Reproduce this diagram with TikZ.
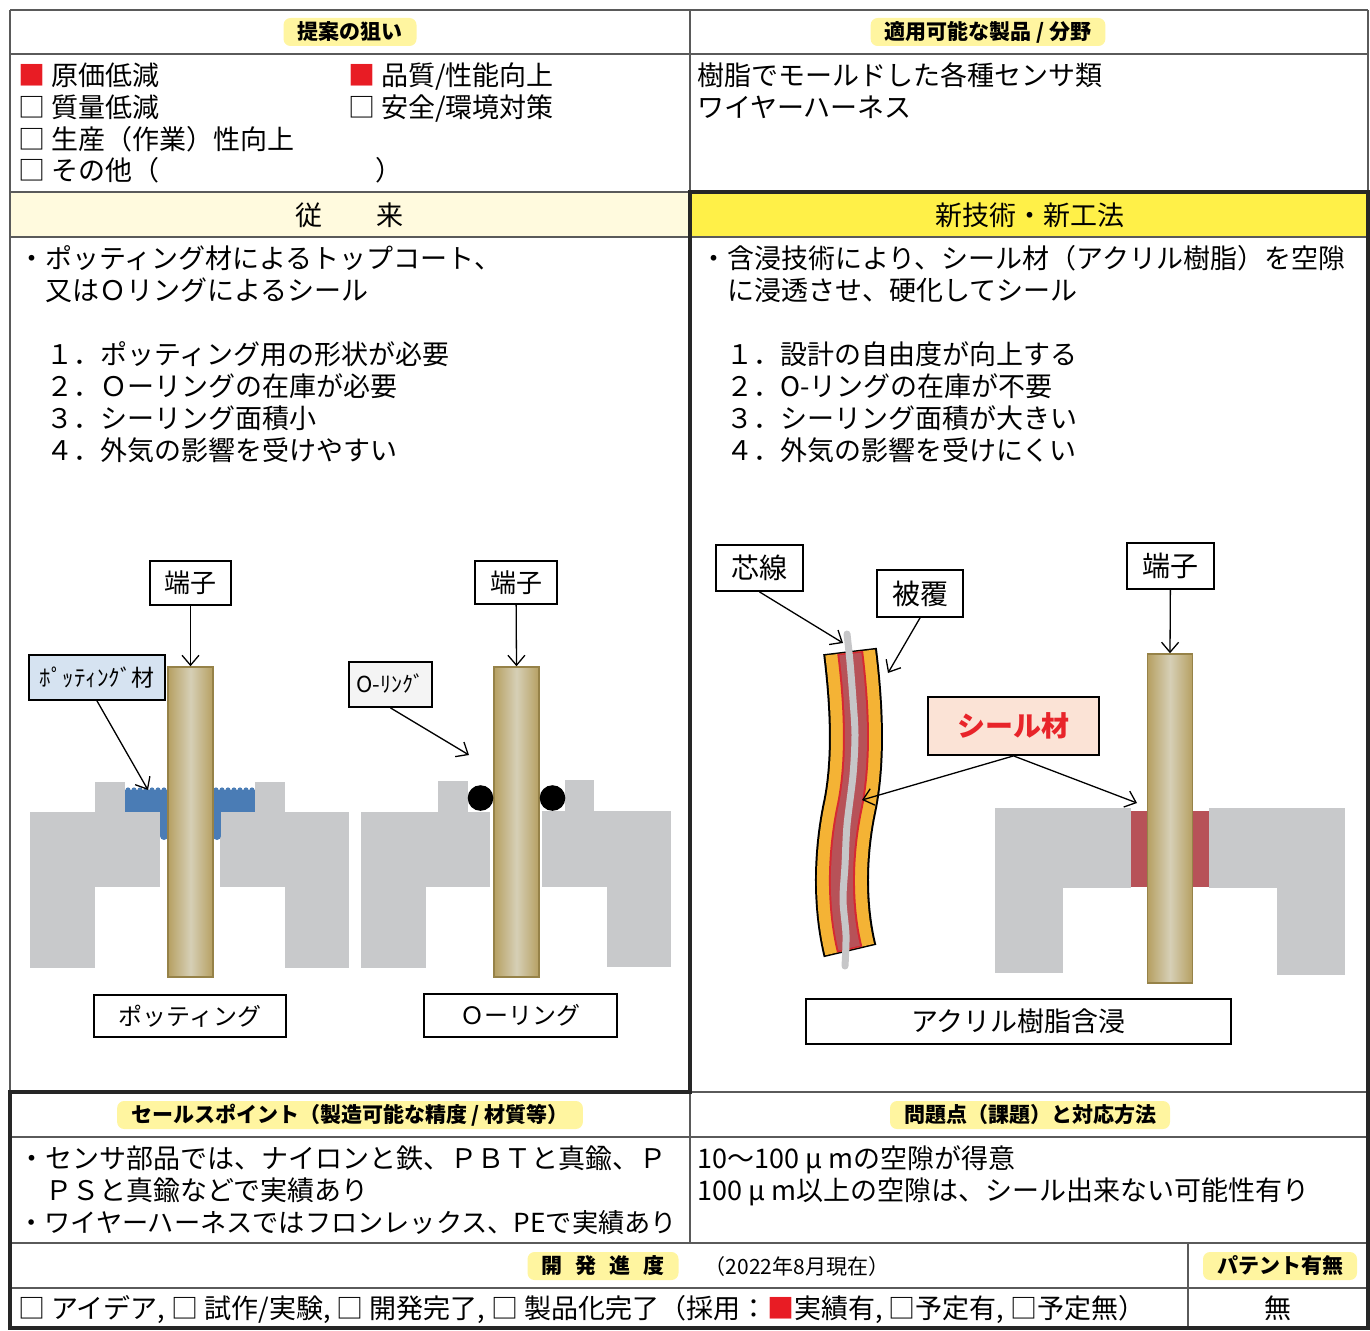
\documentclass[tikz,border=0pt]{standalone}
\usepackage{fontspec}
\setmainfont{Noto Sans CJK JP}
\usetikzlibrary{arrows.meta}

\definecolor{pillyellow}{RGB}{255,245,160}
\definecolor{headpale}{RGB}{255,250,222}
\definecolor{headyellow}{RGB}{255,240,72}
\definecolor{blockgray}{RGB}{200,201,203}
\definecolor{pinedge}{RGB}{182,160,98}
\definecolor{pinmid}{RGB}{214,207,182}
\definecolor{pinline}{RGB}{150,130,72}
\definecolor{pottingblue}{RGB}{74,124,181}
\definecolor{labelblue}{RGB}{214,227,241}
\definecolor{labelgray}{RGB}{244,244,244}
\definecolor{sealred}{RGB}{183,82,88}
\definecolor{sealbox}{RGB}{251,227,214}
\definecolor{sealtext}{RGB}{232,36,42}
\definecolor{wireorange}{RGB}{244,179,53}
\definecolor{wirered}{RGB}{214,40,50}
\definecolor{coregray}{RGB}{198,198,200}
\definecolor{checkred}{RGB}{232,28,36}
\definecolor{rulegray}{RGB}{90,90,90}

\newcommand\fsz[1]{\fontsize{#1}{#1}\selectfont}
\newcommand\redbox{{\color{checkred}■}}

\begin{document}
\begin{tikzpicture}[x=1pt, y=-1pt,
  thinrule/.style={draw=rulegray, line width=1.5pt},
  thickrule/.style={draw=black!85, line width=4pt, line cap=rect},
  cjkstrut/.style={execute at begin node={\rule[-0.12em]{0pt}{1em}}},
  pill/.style={fill=pillyellow, rounded corners=7pt, font=\bfseries\fsz{21},
    minimum height=28pt, inner xsep=14pt, inner ysep=0pt, cjkstrut},
  body/.style={anchor=base west, font=\fsz{27}, inner sep=0pt},
  tag/.style={draw=black, line width=1.8pt, fill=white, inner sep=0pt, cjkstrut},
  pin/.style={draw=pinline, line width=1.5pt, left color=pinedge, right color=pinedge,
    middle color=pinmid, minimum width=45pt, inner sep=0pt},
  block/.style={fill=blockgray},
  arr/.style={line width=1.3pt, -{Straight Barb[length=10pt,width=17pt]}},
]
  \useasboundingbox (0,0) rectangle (1370,1330);

  % Header fills
  \fill[headpale] (10,192) rectangle (690,237);
  \fill[headyellow] (690,192) rectangle (1368,237);

  % Table rules
  \draw[thinrule] (10,10) -- (1368,10);
  \foreach \y in {54,237,1137,1243,1288}
    \draw[thinrule] (10,\y) -- (1368,\y);
  \draw[thinrule] (10,192) -- (690,192);
  \draw[thinrule] (690,1092) -- (1368,1092);
  \draw[thinrule] (10,10) -- (10,1092);
  \draw[thinrule] (690,10) -- (690,192);
  \draw[thinrule] (690,1092) -- (690,1243);
  \draw[thinrule] (1188,1243) -- (1188,1328);
  \draw[thinrule] (1368,10) -- (1368,192);
  \draw[thickrule] (690,192) -- (1368,192);
  \draw[thickrule] (690,192) -- (690,1092) -- (10,1092) -- (10,1328) -- (1368,1328) -- (1368,192);

  % Section titles
  \node[pill] (aimTitle) at (350,32) {提案の狙い};
  \node[pill] (useTitle) at (988,32) {適用可能な製品 / 分野};
  \node[anchor=base, font=\fsz{27}] (oldTitle) at (349,225) {従　　来};
  \node[anchor=base, font=\fsz{27}] (newTitle) at (1030,225) {新技術・新工法};
  \node[pill] (pointTitle) at (350,1115) {セールスポイント（製造可能な精度 / 材質等）};
  \node[pill] (issueTitle) at (1030,1115) {問題点（課題）と対応方法};
  \node[pill] (stageTitle) at (603,1266) {開\hspace{13pt}発\hspace{13pt}進\hspace{13pt}度};
  \node[pill] (patentTitle) at (1280,1266) {パテント有無};
  \node[anchor=base, font=\fsz{21}] (stageDate) at (797,1274) {（2022年8月現在）};

  % Aims and uses
  \node[body] (aim1) at (18,85) {\redbox\ 原価低減};
  \node[body] (aim2) at (18,117) {□ 質量低減};
  \node[body] (aim3) at (18,149) {□ 生産（作業）性向上};
  \node[body] (aim4) at (18,180) {□ その他（　　　　　　　　）};
  \node[body] (aim5) at (348,85) {\redbox\ 品質/性能向上};
  \node[body] (aim6) at (348,117) {□ 安全/環境対策};
  \node[body] (use1) at (697,85) {樹脂でモールドした各種センサ類};
  \node[body] (use2) at (697,117) {ワイヤーハーネス};

  % Conventional method text
  \node[body] (old1) at (18,268) {・ポッティング材によるトップコート、};
  \node[body] (old2) at (18,300) {　又はＯリングによるシール};
  \foreach \n/\t [count=\i] in {１/ポッティング用の形状が必要, ２/Ｏーリングの在庫が必要,
                                ３/シーリング面積小, ４/外気の影響を受けやすい}
    \node[body] (oldItem\i) at (46,332+32*\i) {\n．\t};

  % New method text
  \node[body] (new1) at (700,268) {・含浸技術により、シール材（アクリル樹脂）を空隙};
  \node[body] (new2) at (700,300) {　に浸透させ、硬化してシール};
  \foreach \n/\t [count=\i] in {１/設計の自由度が向上する, ２/O-リングの在庫が不要,
                                ３/シーリング面積が大きい, ４/外気の影響を受けにくい}
    \node[body] (newItem\i) at (726,332+32*\i) {\n．\t};

  % Sales points, issues, progress
  \node[body] (point1) at (18,1168) {・センサ部品では、ナイロンと鉄、ＰＢＴと真鍮、Ｐ};
  \node[body] (point2) at (18,1200) {　ＰＳと真鍮などで実績あり};
  \node[body, font=\fsz{26.2}] (point3) at (18,1232) {・ワイヤーハーネスではフロンレックス、PEで実績あり};
  \node[body] (issue1) at (697,1168) {10～100 μ mの空隙が得意};
  \node[body] (issue2) at (697,1200) {100 μ m以上の空隙は、シール出来ない可能性有り};
  \node[body] (stage) at (18,1318) {□ アイデア, □ 試作/実験, □ 開発完了, □ 製品化完了（採用：\redbox 実績有, □予定有, □予定無）};
  \node[anchor=base, font=\fsz{27}] (patent) at (1278,1318) {無};

  % Potting: housing blocks
  \fill[block] (30,812) rectangle (160,887);
  \fill[block] (95,782) rectangle (125,812);
  \fill[block] (30,887) rectangle (95,968);
  \fill[block] (220,812) rectangle (349,887);
  \fill[block] (255,782) rectangle (285,812);
  \fill[block] (285,887) rectangle (349,968);
  % Potting compound
  \fill[pottingblue] (125,790) rectangle (168,812);
  \fill[pottingblue] (160,812) rectangle (168,836);
  \fill[pottingblue] (164,836) circle (4pt);
  \fill[pottingblue] (213,790) rectangle (255,812);
  \fill[pottingblue] (213,812) rectangle (221,836);
  \fill[pottingblue] (217,836) circle (4pt);
  \foreach \x in {128,134,...,164}
    \fill[pottingblue] (\x,790) circle (2.6pt);
  \foreach \x in {216,222,...,252}
    \fill[pottingblue] (\x,790) circle (2.6pt);
  \node[pin, minimum height=310pt] (pinPot) at (190.5,822) {};

  % O-ring: housing blocks
  \fill[block] (361,812) rectangle (490,887);
  \fill[block] (438,781) rectangle (468,812);
  \fill[block] (361,887) rectangle (426,968);
  \fill[block] (542,811) rectangle (671,887);
  \fill[block] (565,780) rectangle (594,811);
  \fill[block] (607,887) rectangle (671,967);
  \node[pin, minimum height=310pt] (pinRing) at (516.5,822) {};
  \fill (480.5,798) circle (12.8pt);
  \fill (552.5,798) circle (12.8pt);

  % Acrylic impregnation: housing, seal and terminal
  \fill[block] (995,808) rectangle (1131,888);
  \fill[block] (995,888) rectangle (1063,973);
  \fill[block] (1209,808) rectangle (1345,888);
  \fill[block] (1277,888) rectangle (1345,975);
  \fill[sealred] (1131,811) rectangle (1147,887);
  \fill[sealred] (1193,811) rectangle (1209,887);
  \node[pin, minimum height=329pt] (pinSeal) at (1170,818.5) {};

  % Wire with sheath, sealed layer and core
  \foreach \w/\c/\s in {54pt/black/0pt, 50pt/wireorange/1.5pt, 26pt/wirered/1.5pt, 22pt/sealred/3pt}
    \draw[line width=\w, draw=\c, shorten <=\s, shorten >=\s]
      (850,651) .. controls (856,700) and (860,760) .. (849,810)
      .. controls (839,860) and (840,910) .. (850,951);
  \draw[coregray, line width=7pt, line cap=round] plot[smooth] coordinates
    {(847,634) (850,662) (853,700) (855,735) (853,775) (847,825)
     (845,865) (843,900) (846,935) (845,966)};

  % Labels
  \node[tag, font=\fsz{26}, minimum width=81pt, minimum height=44pt] (tagPinPot) at (190.5,583) {端子};
  \node[tag, font=\fsz{26}, minimum width=82pt, minimum height=43pt] (tagPinRing) at (516,582.5) {端子};
  \node[tag, fill=labelblue, font=\fsz{23}, minimum width=136pt, minimum height=45pt] (tagPotMat) at (97,677.5) {ﾎﾟｯﾃｨﾝｸﾞ材};
  \node[tag, fill=labelgray, font=\fsz{22}, minimum width=83pt, minimum height=45pt] (tagRingMat) at (390.5,684.5) {O-ﾘﾝｸﾞ};
  \node[tag, font=\fsz{24}, minimum width=192pt, minimum height=42pt] (capPot) at (190,1016) {ポッティング};
  \node[tag, font=\fsz{24}, minimum width=193pt, minimum height=43pt] (capRing) at (520.5,1015.5) {Ｏーリング};
  \node[tag, font=\fsz{28}, minimum width=87pt, minimum height=46pt] (tagCore) at (759.5,568) {芯線};
  \node[tag, font=\fsz{28}, minimum width=86pt, minimum height=47pt] (tagCover) at (920,593.5) {被覆};
  \node[tag, font=\fsz{28}, minimum width=87pt, minimum height=46pt] (tagPinSeal) at (1170.5,566) {端子};
  \node[tag, fill=sealbox, text=sealtext, font=\bfseries\fsz{28}, minimum width=171pt, minimum height=58pt] (tagSeal) at (1013.5,726) {シール材};
  \node[tag, font=\fsz{27}, minimum width=425pt, minimum height=45pt] (capSeal) at (1018.5,1021.5) {アクリル樹脂含浸};

  % Leader arrows
  \coordinate (potTip) at (148,790);
  \coordinate (ringTip) at (469,755);
  \coordinate (coreTip) at (843,643);
  \coordinate (coverTip) at (888,673);
  \coordinate (wireSealTip) at (862,800);
  \coordinate (pinSealTip) at (1137,803);
  \draw[arr] (tagPinPot) -- (pinPot.north);
  \draw[arr] (tagPinRing) -- (pinRing.north);
  \draw[arr] (tagPinSeal) -- (pinSeal.north);
  \draw[arr] (tagPotMat.south) -- (potTip);
  \draw[arr] (tagRingMat.south) -- (ringTip);
  \draw[arr] (tagCore.south) -- (coreTip);
  \draw[arr] (tagCover.south) -- (coverTip);
  \draw[arr] (tagSeal.south) -- (wireSealTip);
  \draw[arr] (tagSeal.south) -- (pinSealTip);
\end{tikzpicture}
\end{document}
